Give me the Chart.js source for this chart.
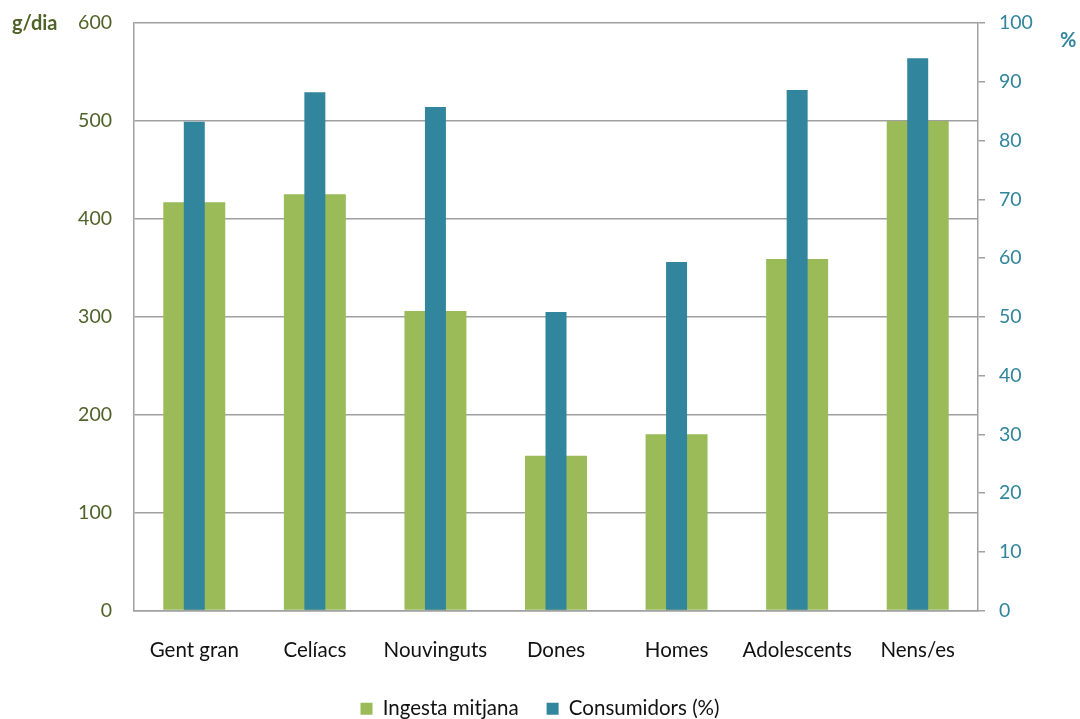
<!DOCTYPE html>
<html>
<head>
<meta charset="utf-8">
<script src="https://cdn.jsdelivr.net/npm/chart.js@4.4.1/dist/chart.umd.min.js"></script>
<style>
  html, body { margin: 0; padding: 0; background: #ffffff; }
  #wrap { width: 1080px; height: 719px; }
</style>
</head>
<body>
<div id="wrap"><canvas id="chart" width="1080" height="719"></canvas></div>
<script>
// Grups de població
const categories = ['Gent gran', 'Celíacs', 'Nouvinguts', 'Dones', 'Homes', 'Adolescents', 'Nens/es'];
// Ingesta mitjana (g/dia)
const ingestaMitjana = [417, 425, 306, 158, 180, 359, 500];
// Consumidors (%)
const consumidors = [83.2, 88.2, 85.7, 50.8, 59.3, 88.6, 94.0];

const leftTicks = { min: 0, max: 600, step: 100 };
const rightTicks = { min: 0, max: 100, step: 10 };

const GREEN = '#9bbb59';
const TEAL = '#31859c';
const OLIVE = '#4f6228';
const GRID = '#a0a0a0';
const FONT = 'Lato, "Open Sans", sans-serif';

// Axis titles drawn beside the top tick labels
const axisTitles = {
  id: 'axisTitles',
  afterDraw(chart) {
    const ctx = chart.ctx;
    const top = chart.chartArea.top;
    ctx.save();
    ctx.font = 'bold 20px ' + FONT;
    ctx.textBaseline = 'middle';
    ctx.textAlign = 'left';
    ctx.fillStyle = OLIVE;
    ctx.fillText('g/dia', 12, top + 1);
    ctx.fillStyle = TEAL;
    ctx.fillText('%', 1060, top + 18);
    ctx.restore();
  }
};

// Keep the vertical axes from reserving extra room above/below the plot
function fixVertical(width) {
  return function (scale) {
    scale.width = width;
    scale.paddingTop = 0;
    scale.paddingBottom = 0;
  };
}

new Chart(document.getElementById('chart'), {
  type: 'bar',
  data: {
    labels: categories,
    datasets: [
      {
        label: 'Ingesta mitjana',
        data: ingestaMitjana,
        backgroundColor: GREEN,
        yAxisID: 'y',
        grouped: false,
        order: 2,
        categoryPercentage: 1.0,
        barPercentage: 0.514
      },
      {
        label: 'Consumidors (%)',
        data: consumidors,
        backgroundColor: TEAL,
        yAxisID: 'y1',
        grouped: false,
        order: 1,
        categoryPercentage: 1.0,
        barPercentage: 0.174
      }
    ]
  },
  plugins: [axisTitles],
  options: {
    responsive: false,
    animation: false,
    layout: { padding: { top: 23, left: 0, right: 0, bottom: -10 } },
    plugins: {
      tooltip: { enabled: false },
      legend: {
        position: 'bottom',
        labels: {
          font: { family: FONT, size: 20.5 },
          color: '#111',
          boxWidth: 12,
          boxHeight: 12,
          padding: 28,
          sort: (a, b) => a.datasetIndex - b.datasetIndex
        }
      }
    },
    scales: {
      x: {
        grid: { display: false, drawTicks: false },
        border: { display: true, color: GRID, width: 1.5 },
        ticks: { font: { family: FONT, size: 20.5 }, color: '#111', padding: 28, maxRotation: 0 },
        afterFit(scale) { scale.height = 60; }
      },
      y: {
        position: 'left',
        min: leftTicks.min,
        max: leftTicks.max,
        ticks: { stepSize: leftTicks.step, font: { family: FONT, size: 19.5 }, color: OLIVE, padding: 22 },
        grid: { color: GRID, lineWidth: 1.5, drawTicks: false },
        border: { display: true, color: GRID, width: 1.5 },
        afterFit: fixVertical(134)
      },
      y1: {
        position: 'right',
        min: rightTicks.min,
        max: rightTicks.max,
        ticks: { stepSize: rightTicks.step, font: { family: FONT, size: 19.5 }, color: TEAL, padding: 14 },
        grid: { drawOnChartArea: false, color: GRID, lineWidth: 1.5, tickLength: 7 },
        border: { display: true, color: GRID, width: 1.5 },
        afterFit: fixVertical(102)
      }
    }
  }
});
</script>
</body>
</html>
